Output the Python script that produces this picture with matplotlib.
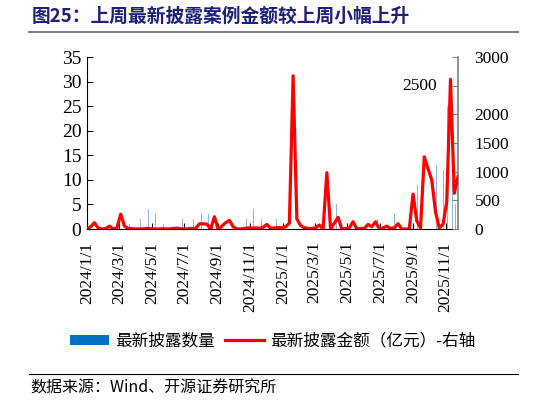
import matplotlib
matplotlib.use("Agg")
import matplotlib.pyplot as plt
from matplotlib.lines import Line2D
from matplotlib.patches import Patch
import pandas as pd

# ---- data ----
line_start = "2024-01-01"
line_values = [0, 40, 110, 15, 0, 10, 50, 0, 20, 260,
               50, 10, 5, 0, 0, 5, 10, 5, 0, 0,
               5, 0, 0, 10, 15, 5, 0, 5, 10, 10,
               90, 90, 85, 0, 215, 0, 50, 110, 150, 40,
               0, 0, 10, 20, 15, 20, 10, 30, 80, 10,
               20, 25, 20, 40, 100, 2670, 175, 60, 20, 10,
               10, 20, 70, 0, 982, 0, 100, 204, 0, 10,
               20, 127, 0, 10, 10, 80, 40, 127, 0, 20,
               50, 10, 20, 92, 0, 0, 0, 610, 140, 20,
               1260, 1050, 855, 300, 20, 80, 470, 2610, 622, 912]

bar_dates = ["2024-01-08", "2024-01-16", "2024-02-06", "2024-02-13", "2024-03-05",
             "2024-03-20", "2024-03-27", "2024-04-10", "2024-04-25", "2024-05-08",
             "2024-05-16", "2024-05-23", "2024-05-29", "2024-06-13", "2024-06-19",
             "2024-06-27", "2024-07-10", "2024-07-18", "2024-08-02", "2024-08-08",
             "2024-08-15", "2024-09-20", "2024-10-18", "2024-10-25", "2024-11-01",
             "2024-11-07", "2024-11-22", "2024-11-29", "2024-12-06", "2024-12-20",
             "2024-12-27", "2025-01-03", "2025-02-07", "2025-02-21", "2025-02-28",
             "2025-03-07", "2025-04-03", "2025-04-11", "2025-04-18", "2025-04-29",
             "2025-05-06", "2025-05-23", "2025-06-09", "2025-06-13", "2025-06-27",
             "2025-07-11", "2025-07-18", "2025-07-28", "2025-08-04", "2025-08-15",
             "2025-08-26", "2025-09-01", "2025-09-09", "2025-09-17", "2025-09-29",
             "2025-10-15", "2025-10-28", "2025-11-04", "2025-11-14", "2025-11-19"]
bar_counts = [3, 3, 1, 3, 7,
              1, 1, 2, 4, 3,
              1, 1, 3, 1, 1,
              2, 2, 2, 3, 3,
              3, 3, 1, 2, 4,
              4, 2, 3, 3, 2,
              4, 3, 3, 2, 2,
              4, 2, 5, 2, 3,
              3, 1, 6, 5, 2,
              7, 2, 3, 2, 4,
              5, 7, 9, 7, 7,
              13, 12, 25, 10, 5]

tick_labels = ["2024/1/1", "2024/3/1", "2024/5/1", "2024/7/1", "2024/9/1", "2024/11/1",
               "2025/1/1", "2025/3/1", "2025/5/1", "2025/7/1", "2025/9/1", "2025/11/1"]
left_ticks = [0, 5, 10, 15, 20, 25, 30, 35]
right_ticks = [0, 500, 1000, 1500, 2000, 2500, 3000]

title = "图25：上周最新披露案例金额较上周小幅上升"
label_bar = "最新披露数量"
label_line = "最新披露金额（亿元）-右轴"
source = "数据来源：Wind、开源证券研究所"

# ---- figure ----
plt.rcParams["font.family"] = ["Liberation Serif", "DejaVu Sans"]
plt.rcParams["font.size"] = 12.5
W, H = 546, 405
fig = plt.figure(figsize=(W / 100, H / 100), dpi=100)
cjk = ["Noto Sans CJK SC", "DejaVu Sans"]

ax = fig.add_axes([87 / W, 1 - 229 / H, 371 / W, 172 / H])
ax2 = ax.twinx()

line_dates = pd.date_range(line_start, periods=len(line_values), freq="7D")
bdates = pd.to_datetime(bar_dates)

ax.bar(bdates, bar_counts, width=0.8, color="#8DB6E0", linewidth=0, zorder=2)
ax2.plot(line_dates, line_values, color="#FF0000", lw=2.3, solid_joinstyle="round", zorder=3)

ax.set_xlim(line_dates[0], line_dates[-1])
ax.set_ylim(0, 35)
ax2.set_ylim(0, 3000)

tick_pos = pd.to_datetime([t.replace("/", "-") for t in tick_labels])
ax.set_xticks(tick_pos)
ax.set_xticklabels(tick_labels, rotation=90)
ax.set_yticks(left_ticks)
ax.set_yticklabels([str(v) for v in left_ticks])

ax2.set_yticks(right_ticks)
ax2.set_yticklabels(["" if v == 2500 else str(v) for v in right_ticks])
ax2.text(0.943, 2500, "2500", transform=ax2.get_yaxis_transform(),
         ha="right", va="center", fontsize=12.5)

ax.tick_params(axis="x", direction="in", length=4, pad=9, width=0.8, labelsize=12.5)
ax.tick_params(axis="y", direction="in", length=4, pad=4, width=0.8, labelsize=14)
ax2.tick_params(axis="y", direction="in", length=4, pad=12, width=0.8, color="#808080",
                labelsize=12.5)

for a in (ax, ax2):
    a.spines["top"].set_visible(False)
ax2.spines["left"].set_visible(False)
ax2.spines["bottom"].set_visible(False)
ax2.spines["right"].set_color("#808080")
ax2.spines["right"].set_linewidth(1.2)
ax.spines["right"].set_visible(False)
ax.spines["left"].set_linewidth(0.8)
ax.spines["bottom"].set_linewidth(0.8)

# title & rules
fig.text(32 / W, 1 - 16 / H, title, fontsize=13.5, fontweight="bold", color="#1F1F78",
         family=cjk, ha="left", va="center")
fig.add_artist(Line2D([29 / W, 518 / W], [1 - 31.5 / H] * 2, color="#808080", lw=1.5))
fig.add_artist(Line2D([29 / W, 518 / W], [1 - 374 / H] * 2, color="black", lw=0.8))
fig.text(30 / W, 1 - 388 / H, source, fontsize=11.5, family=cjk, ha="left", va="center")

handles = [Patch(facecolor="#0070C0", edgecolor="none"),
           Line2D([0], [0], color="#FF0000", lw=2.3)]
fig.legend(handles, [label_bar, label_line], loc="center",
           bbox_to_anchor=(273 / W, 1 - 341 / H), ncol=2, frameon=False,
           prop={"family": cjk, "size": 12}, handlelength=2.3, handleheight=0.55,
           columnspacing=0.6, handletextpad=0.4)

fig.savefig("out.png", dpi=100)
